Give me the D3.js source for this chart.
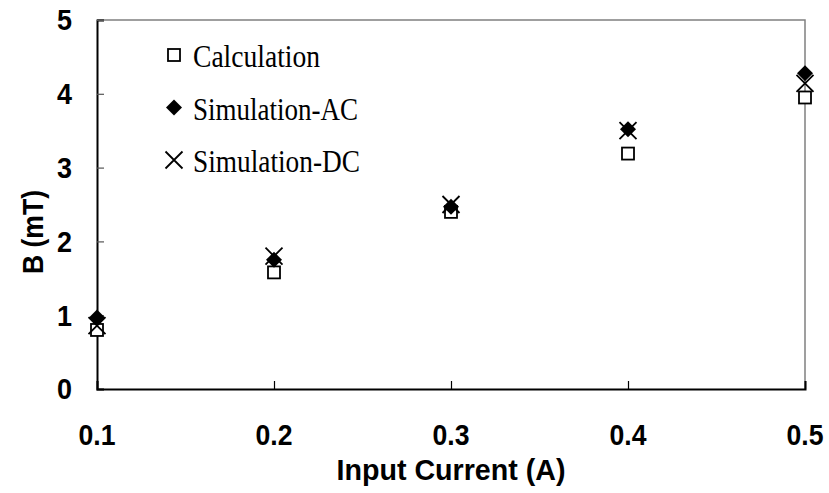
<!DOCTYPE html>
<html>
<head>
<script src="https://d3js.org/d3.v7.min.js"></script>
<style>
body { margin: 0; background: white; }
svg text { fill: black; }
</style>
</head>
<body>
<svg width="829" height="493"></svg>
<script>
// values
var current = [0.1, 0.2, 0.3, 0.4, 0.5];
var calc = [0.80, 1.58, 2.40, 3.19, 3.95];
var simAC = [0.97, 1.75, 2.47, 3.52, 4.28];
var simDC = [0.86, 1.80, 2.50, 3.50, 4.14];
var xTicks = [0.1, 0.2, 0.3, 0.4, 0.5];
var yTicks = [0, 1, 2, 3, 4, 5];
var seriesNames = ['Calculation', 'Simulation-AC', 'Simulation-DC'];

var svg = d3.select('svg');
var pLeft = 97, pRight = 805, pTop = 20, pBottom = 389;
var labelFont = 'bold 29px "Liberation Sans", Arial, sans-serif';

var x = d3.scaleLinear().domain([0.1, 0.5]).range([pLeft, pRight]);
var y = d3.scaleLinear().domain([0, 5]).range([pBottom, pTop]);

// gray frame on top / right
svg.append('path')
    .attr('d', 'M' + pLeft + ',' + pTop + 'H' + pRight + 'V' + pBottom)
    .attr('fill', 'none')
    .attr('stroke', '#808080')
    .attr('stroke-width', 1.5);

// y axis
var yAxis = svg.append('g')
    .attr('transform', 'translate(' + pLeft + ',0)')
    .call(d3.axisRight(y).tickValues(yTicks).tickSize(7).tickFormat(''));
yAxis.select('.domain').attr('stroke-width', 2);
yAxis.selectAll('.tick line').attr('stroke', '#555').attr('stroke-width', 1.2);

svg.append('g').selectAll('text')
    .data(yTicks)
    .enter().append('text')
    .attr('x', 72)
    .attr('y', function(d) { return y(d); })
    .attr('dy', '0.36em')
    .attr('text-anchor', 'end')
    .attr('textLength', 15)
    .attr('lengthAdjust', 'spacingAndGlyphs')
    .style('font', labelFont)
    .text(function(d) { return d; });

// x axis
var xAxis = svg.append('g')
    .attr('transform', 'translate(0,' + pBottom + ')')
    .call(d3.axisTop(x).tickValues(xTicks).tickSize(8).tickFormat(''));
xAxis.select('.domain').attr('stroke-width', 2);
xAxis.selectAll('.tick line').attr('stroke-width', 1.2);

svg.append('g').selectAll('text')
    .data(xTicks)
    .enter().append('text')
    .attr('x', function(d) { return x(d); })
    .attr('y', 445)
    .attr('text-anchor', 'middle')
    .attr('textLength', 37)
    .attr('lengthAdjust', 'spacingAndGlyphs')
    .style('font', labelFont)
    .text(function(d) { return d3.format('.1f')(d); });

svg.append('text')
    .attr('x', 451)
    .attr('y', 480)
    .attr('text-anchor', 'middle')
    .attr('textLength', 229)
    .attr('lengthAdjust', 'spacingAndGlyphs')
    .style('font', labelFont)
    .text('Input Current (A)');

svg.append('text')
    .attr('transform', 'translate(43,232) rotate(-90)')
    .attr('text-anchor', 'middle')
    .attr('textLength', 84)
    .attr('lengthAdjust', 'spacingAndGlyphs')
    .style('font', labelFont)
    .text('B (mT)');

// marker drawing
function drawSquare(g, cx, cy) {
    g.append('rect')
        .attr('x', cx - 6).attr('y', cy - 6)
        .attr('width', 12).attr('height', 12)
        .attr('fill', 'white').attr('stroke', 'black').attr('stroke-width', 1.8);
}
function drawDiamond(g, cx, cy) {
    var r = 8;
    g.append('path')
        .attr('d', 'M' + cx + ',' + (cy - r) + 'L' + (cx + r) + ',' + cy +
                   'L' + cx + ',' + (cy + r) + 'L' + (cx - r) + ',' + cy + 'Z')
        .attr('fill', 'black');
}
function drawCross(g, cx, cy) {
    var s = 8.5;
    g.append('path')
        .attr('d', 'M' + (cx - s) + ',' + (cy - s) + 'L' + (cx + s) + ',' + (cy + s) +
                   'M' + (cx - s) + ',' + (cy + s) + 'L' + (cx + s) + ',' + (cy - s))
        .attr('stroke', 'black').attr('stroke-width', 1.8).attr('fill', 'none');
}

var pts = svg.append('g');
current.forEach(function(c, i) { drawSquare(pts, x(c), y(calc[i])); });
current.forEach(function(c, i) { drawCross(pts, x(c), y(simDC[i])); });
current.forEach(function(c, i) { drawDiamond(pts, x(c), y(simAC[i])); });

// legend
var leg = svg.append('g');
var drawers = [drawSquare, drawDiamond, drawCross];
var legWidths = [127, 165, 167];
seriesNames.forEach(function(name, i) {
    var cy = 55 + i * 52.5;
    drawers[i](leg, 174, cy);
    leg.append('text')
        .attr('x', 193)
        .attr('y', cy + 12)
        .attr('textLength', legWidths[i])
        .attr('lengthAdjust', 'spacingAndGlyphs')
        .style('font', '32px "Liberation Serif", "Times New Roman", serif')
        .text(name);
});
</script>
</body>
</html>
